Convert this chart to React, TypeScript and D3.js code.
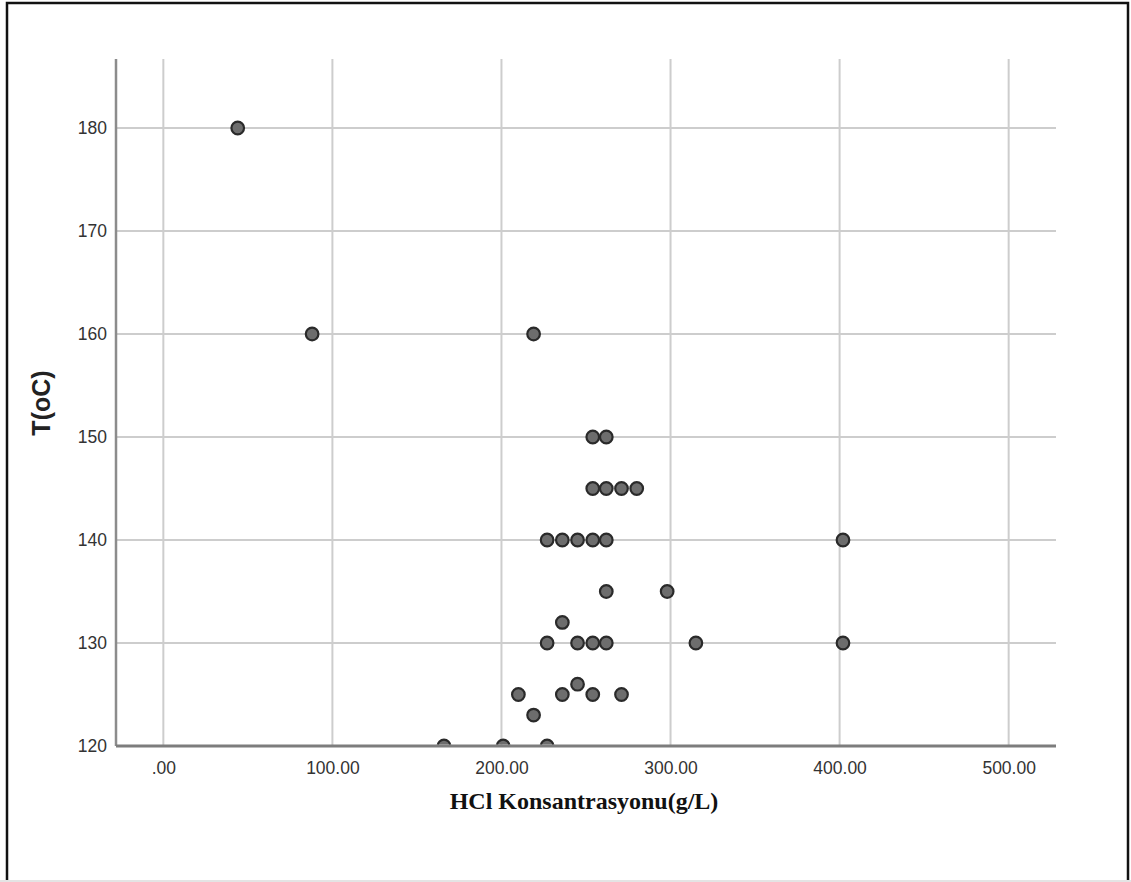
import * as d3 from "d3";
import { useEffect, useRef } from "react";

// ---- data ----
const concentration = [
  44, 88, 219,
  254, 262,
  254, 262, 271, 280,
  227, 236, 245, 254, 262, 402,
  262, 298,
  236,
  227, 245, 254, 262, 315, 402,
  245,
  210, 236, 254, 271,
  219,
  166, 201, 227,
];
const temperature = [
  180, 160, 160,
  150, 150,
  145, 145, 145, 145,
  140, 140, 140, 140, 140, 140,
  135, 135,
  132,
  130, 130, 130, 130, 130, 130,
  126,
  125, 125, 125, 125,
  123,
  120, 120, 120,
];
const xTicks = [0, 100, 200, 300, 400, 500];
const yTicks = [120, 130, 140, 150, 160, 170, 180];

export default function App() {
  const svgRef = useRef<SVGSVGElement | null>(null);

  useEffect(() => {
    const width = 1131;
    const height = 882;
    const plot = { left: 116, right: 1056, top: 59, bottom: 746 };

    const svg = d3.select(svgRef.current);
    svg.selectAll("*").remove();

    const x = d3.scaleLinear().domain([-28, 528]).range([plot.left, plot.right]);
    const y = d3.scaleLinear().domain([120, 186.7]).range([plot.bottom, plot.top]);

    // 外框
    svg.append("rect")
      .attr("width", width)
      .attr("height", height)
      .attr("fill", "#fff");
    svg.append("rect")
      .attr("x", 7)
      .attr("y", 3)
      .attr("width", 1121)
      .attr("height", height + 20)
      .attr("fill", "none")
      .attr("stroke", "#111")
      .attr("stroke-width", 2.5);
    svg.append("line")
      .attr("x1", 0).attr("x2", width)
      .attr("y1", 881).attr("y2", 881)
      .attr("stroke", "#e4e4e4")
      .attr("stroke-width", 2);

    // ---- grid ----
    svg.append("g")
      .attr("stroke", "#cdcdcd")
      .attr("stroke-width", 2)
      .selectAll("line")
      .data(xTicks)
      .join("line")
      .attr("x1", (d) => x(d))
      .attr("x2", (d) => x(d))
      .attr("y1", plot.top)
      .attr("y2", plot.bottom);

    svg.append("g")
      .attr("stroke", "#cdcdcd")
      .attr("stroke-width", 2)
      .selectAll("line")
      .data(yTicks)
      .join("line")
      .attr("x1", plot.left)
      .attr("x2", plot.right)
      .attr("y1", (d) => y(d))
      .attr("y2", (d) => y(d));

    // ---- axes ----
    const fmt = (d: number) => d3.format(".2f")(d).replace(/^0\./, ".");
    const xAxis = svg.append("g")
      .attr("transform", `translate(0,${plot.bottom})`)
      .call(d3.axisBottom(x).tickValues(xTicks).tickSize(0).tickPadding(16).tickFormat((d) => fmt(+d)));
    xAxis.select(".domain").remove();

    const yAxis = svg.append("g")
      .attr("transform", `translate(${plot.left},0)`)
      .call(d3.axisLeft(y).tickValues(yTicks).tickSize(0).tickPadding(9).tickFormat(d3.format("d")));
    yAxis.select(".domain").remove();

    svg.selectAll(".tick text")
      .attr("font-family", "Liberation Sans, Arial, sans-serif")
      .attr("font-size", 17.5)
      .attr("fill", "#333");

    svg.append("line")
      .attr("x1", plot.left).attr("x2", plot.left)
      .attr("y1", plot.top).attr("y2", plot.bottom)
      .attr("stroke", "#8c8c8c")
      .attr("stroke-width", 2.5);
    svg.append("line")
      .attr("x1", plot.left).attr("x2", plot.right)
      .attr("y1", plot.bottom).attr("y2", plot.bottom)
      .attr("stroke", "#7d7d7d")
      .attr("stroke-width", 3);

    // ---- points ----
    svg.append("clipPath")
      .attr("id", "plot-clip")
      .append("rect")
      .attr("x", plot.left)
      .attr("y", plot.top - 10)
      .attr("width", plot.right - plot.left)
      .attr("height", plot.bottom - plot.top + 8.5);

    svg.append("g")
      .attr("clip-path", "url(#plot-clip)")
      .selectAll("circle")
      .data(concentration)
      .join("circle")
      .attr("cx", (d) => x(d))
      .attr("cy", (_, i) => y(temperature[i]))
      .attr("r", 6.3)
      .attr("fill", "#6d6d6d")
      .attr("stroke", "#2a2a2a")
      .attr("stroke-width", 2.2);

    // ---- titles ----
    svg.append("text")
      .attr("x", 584)
      .attr("y", 809)
      .attr("text-anchor", "middle")
      .attr("font-family", "Liberation Serif, Times New Roman, serif")
      .attr("font-weight", 700)
      .attr("font-size", 24)
      .attr("fill", "#111")
      .text("HCl Konsantrasyonu(g/L)");

    svg.append("text")
      .attr("transform", `translate(50,403) rotate(-90)`)
      .attr("text-anchor", "middle")
      .attr("font-family", "Liberation Sans, Arial, sans-serif")
      .attr("font-weight", 700)
      .attr("font-size", 25)
      .attr("fill", "#222")
      .text("T(oC)");
  }, []);

  return (
    <svg
      ref={svgRef}
      width={1131}
      height={882}
      style={{ position: "absolute", left: 0, top: 0, display: "block" }}
    />
  );
}
